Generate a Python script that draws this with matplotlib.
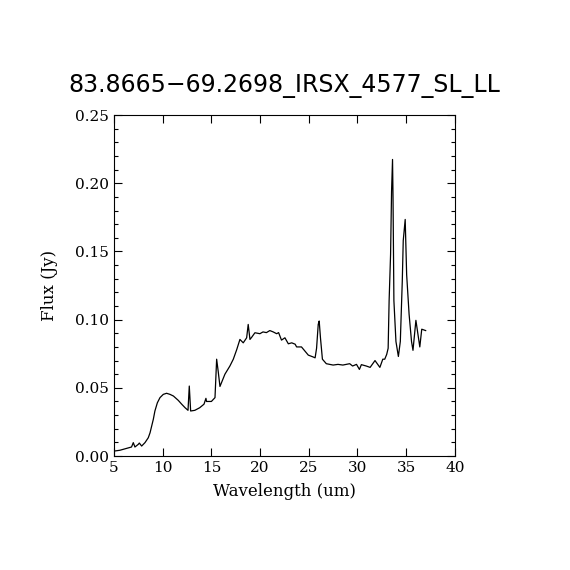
import matplotlib
matplotlib.use("Agg")
import matplotlib.pyplot as plt
from matplotlib.ticker import MultipleLocator

title = "83.8665\u221269.2698_IRSX_4577_SL_LL"

# wavelength (um) and flux (Jy)
wave = [5.1, 5.6, 6.3, 6.8, 6.98, 7.15, 7.5, 7.6, 7.84, 8.18, 8.52, 8.7, 8.87,
        9.04, 9.2, 9.45, 9.72, 10.06, 10.4, 10.75, 11.1, 11.6, 11.95, 12.3,
        12.6, 12.73, 12.87, 13.3, 13.8, 14.24, 14.44, 14.5, 15.0, 15.37,
        15.54, 15.7, 15.88, 16.05, 16.39, 16.9, 17.25, 17.6, 17.93, 18.27,
        18.62, 18.78, 18.96, 19.13, 19.47, 19.98, 20.3, 20.65, 21.0, 21.35,
        21.7, 21.9, 22.2, 22.55, 22.9, 23.25, 23.6, 23.75, 24.25, 24.6,
        24.95, 25.46, 25.65, 25.8, 25.97, 26.07, 26.2, 26.4, 26.8, 27.5,
        28.0, 28.5, 29.2, 29.5, 29.9, 30.2, 30.4, 30.9, 31.3, 31.8, 32.3,
        32.6, 32.8, 33.0, 33.15, 33.25, 33.4, 33.5, 33.6, 33.65, 33.74, 33.95,
        34.2, 34.4, 34.6, 34.7, 34.9, 35.05, 35.3, 35.55, 35.7, 36.0, 36.4,
        36.6, 37.0]
flux = [0.0037, 0.0042, 0.0056, 0.0066, 0.0098, 0.0066, 0.0086, 0.0095,
        0.0073, 0.0098, 0.0134, 0.017, 0.022, 0.027, 0.033, 0.039, 0.0428,
        0.0452, 0.046, 0.0452, 0.044, 0.0408, 0.038, 0.0354, 0.0335, 0.0513,
        0.033, 0.0335, 0.0354, 0.038, 0.0423, 0.040, 0.040, 0.0428, 0.071,
        0.062, 0.051, 0.054, 0.060, 0.066, 0.071, 0.078, 0.0855, 0.083,
        0.0867, 0.0965, 0.0855, 0.087, 0.0904, 0.0897, 0.091, 0.0905, 0.092,
        0.091, 0.0897, 0.0905, 0.085, 0.0867, 0.0823, 0.083, 0.082, 0.080,
        0.080, 0.077, 0.074, 0.0726, 0.072, 0.079, 0.0965, 0.099, 0.0867,
        0.071, 0.0677, 0.0667, 0.0672, 0.0667, 0.0677, 0.066, 0.0672, 0.0635,
        0.067, 0.066, 0.065, 0.070, 0.065, 0.071, 0.071, 0.0745, 0.079,
        0.114, 0.148, 0.194, 0.2175, 0.19, 0.114, 0.084, 0.073, 0.084, 0.128,
        0.158, 0.1735, 0.133, 0.104, 0.084, 0.0775, 0.0995, 0.080, 0.093,
        0.092]

plt.rcParams['font.family'] = ['DejaVu Serif']

fig = plt.figure(figsize=(5.7, 5.7), dpi=100)
ax = fig.add_axes([0.2, 0.2, 0.598, 0.598])
ax.plot(wave, flux, color="black", linewidth=0.9)

ax.set_xlim(5, 40)
ax.set_ylim(0, 0.25)
ax.xaxis.set_major_locator(MultipleLocator(5))
ax.yaxis.set_major_locator(MultipleLocator(0.05))
ax.yaxis.set_minor_locator(MultipleLocator(0.01))
ax.yaxis.set_major_formatter(matplotlib.ticker.FormatStrFormatter("%.2f"))
ax.tick_params(which="both", direction="in", top=True, right=True,
               labelsize=11, width=0.8)
ax.tick_params(which="major", length=6)
ax.tick_params(which="minor", length=3)
for s in ax.spines.values():
    s.set_linewidth(0.8)

ax.set_xlabel("Wavelength (um)", fontsize=12, labelpad=6)
ax.set_ylabel("Flux (Jy)", fontsize=12, labelpad=12)
ax.set_title(title, fontsize=17, family="DejaVu Sans", pad=17)

fig.savefig("out.png", dpi=100)
